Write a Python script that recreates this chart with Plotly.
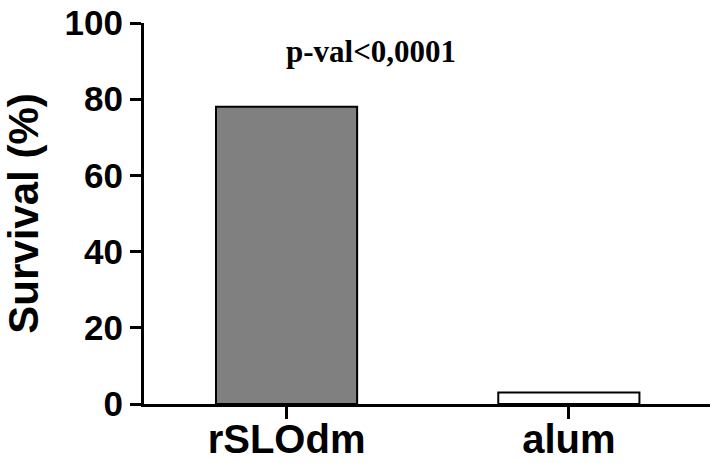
import plotly.graph_objects as go

categories = ["rSLOdm", "alum"]
survival = [78, 3]
bar_colors = ["#808080", "#ffffff"]
y_ticks = [0, 20, 40, 60, 80, 100]
annotation_text = "p-val<0,0001"

fig = go.Figure()
fig.add_trace(go.Bar(
    x=categories,
    y=survival,
    width=0.5,
    marker=dict(color=bar_colors, line=dict(color="black", width=2)),
))

fig.add_annotation(
    x=0.3, y=92.5, xref="x", yref="y",
    text=annotation_text, showarrow=False,
    font=dict(family="Liberation Serif", size=31, color="black", weight="bold"),
)

fig.update_layout(
    width=710, height=463,
    margin=dict(l=144, r=0, t=23, b=59),
    plot_bgcolor="white", paper_bgcolor="white",
    showlegend=False,
    font=dict(family="Liberation Sans", color="black"),
)
fig.update_xaxes(
    range=[-0.505, 1.5], automargin=False,
    showline=True, linecolor="black", linewidth=3,
    ticks="outside", ticklen=12, tickwidth=3, tickcolor="black",
    tickfont=dict(size=40, weight="bold", family="Liberation Sans"),
    ticklabelstandoff=-14,
    showgrid=False, zeroline=False,
)
fig.update_yaxes(
    range=[0, 100], tickvals=y_ticks, automargin=False,
    showline=True, linecolor="black", linewidth=3,
    ticks="outside", ticklen=11, tickwidth=3, tickcolor="black",
    tickfont=dict(size=35, weight="bold", family="Liberation Sans"),
    title=dict(text="Survival (%)", font=dict(size=42, weight="bold", family="Liberation Sans"), standoff=18),
    showgrid=False, zeroline=False,
)

fig.write_html("out.html")
